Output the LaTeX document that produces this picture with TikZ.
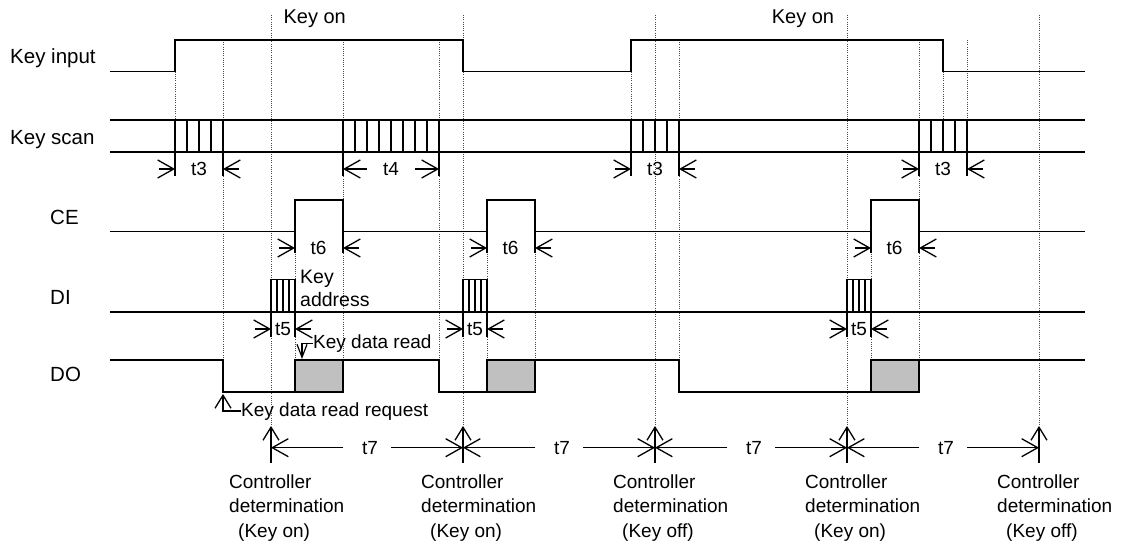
\documentclass[tikz,border=0pt]{standalone}
\usepackage{fontspec}
\setmainfont{Liberation Sans}
\usetikzlibrary{arrows.meta}
\definecolor{boxgray}{HTML}{C0C0C0}

\begin{document}
\begin{tikzpicture}[x=1pt,y=-1pt,
    font=\fontsize{19}{24.5}\selectfont,
    sig/.style={line width=1.5pt},
    guide/.style={line width=0.8pt,black!70,dash pattern=on 1pt off 1.2pt},
    ext/.style={line width=1.3pt},
    dimtip/.style={line width=1.3pt,-{Straight Barb[length=16pt,width=18pt]}},
    uptip/.style={line width=1.3pt,-{Straight Barb[length=13pt,width=16pt]}},
    smalltip/.style={line width=1.2pt,-{Straight Barb[length=13pt,width=10pt]}},
    sidelbl/.style={anchor=base west,inner sep=0pt,font=\fontsize{20.5}{24}\selectfont}]
        \useasboundingbox (0,0) rectangle (1133,545);
        \foreach \x/\ya/\yb in {175/71.7/120,223/40/360,271/15/426,295/231.7/360,343/40/360,439/40/360,463/15/426,487/231.7/360,535/231.7/360,631/71.7/120,655/15/426,679/40/360,847/15/426,871/231.7/360,919/40/360,943/71.7/120,967/40/152,1039/15/426}
          \draw[guide] (\x,\ya) -- (\x,\yb);
        \node[sidelbl] (lkin) at (10,63.5) {Key input};
        \node[sidelbl] (lksc) at (10,145) {Key scan};
        \node[sidelbl] (lce) at (50,225) {CE};
        \node[sidelbl] (ldi) at (50,305) {DI};
        \node[sidelbl] (ldo) at (50,381.7) {DO};
        \node[anchor=base,font=\fontsize{20}{24}\selectfont] (keyon1) at (314.7,23.5) {Key on};
        \node[anchor=base,font=\fontsize{20}{24}\selectfont] (keyon2) at (803,23.5) {Key on};
        % Key input
        \draw[sig] (110,71.7) -- (175,71.7) -- (175,40) -- (463,40) -- (463,71.7) -- (631,71.7) -- (631,40) -- (943,40) -- (943,71.7) -- (1085,71.7);
        % Key scan
        \draw[sig] (110,120) -- (1085,120) (110,152) -- (1085,152);
        \foreach \a in {175,631,919}
          \foreach \i in {0,...,4} \draw[ext] (\a+12*\i,120) -- (\a+12*\i,152);
        \foreach \i in {0,...,8} \draw[ext] (343+12*\i,120) -- (343+12*\i,152);
        \foreach \x in {175,223,343,439,631,679,919,967} \draw[ext] (\x,152) -- (\x,176);
        \foreach \a/\b/\n in {175/223/1,631/679/2,919/967/3} {
          \node (tt\n) at ({(\a+\b)/2},169) {t3};
          \coordinate (tl\n) at (\a,169);
          \coordinate (tr\n) at (\b,169);
          \draw[dimtip] ([xshift=-16pt]tl\n) -- (tl\n);
          \draw[dimtip] ([xshift=16pt]tr\n) -- (tr\n);
        }
        \node (tf) at (391,169) {t4};
        \coordinate (tfl) at (343,169);
        \coordinate (tfr) at (439,169);
        \draw[dimtip] ([xshift=-24pt]tf.center) -- (tfl);
        \draw[dimtip] ([xshift=24pt]tf.center) -- (tfr);
        % CE
        \draw[sig] (110,231.7) -- (295,231.7) -- (295,200) -- (343,200) -- (343,231.7) -- (487,231.7) -- (487,200) -- (535,200) -- (535,231.7) -- (871,231.7) -- (871,200) -- (919,200) -- (919,231.7) -- (1085,231.7);
        \foreach \p/\n in {295/1,487/2,871/3} {
          \draw[ext] (\p,231.7) -- (\p,253) (\p+48,231.7) -- (\p+48,253);
          \node (ts\n) at (\p+23.5,248) {t6};
          \coordinate (sl\n) at (\p,248);
          \coordinate (sr\n) at (\p+48,248);
          \draw[dimtip] ([xshift=-16pt]sl\n) -- (sl\n);
          \draw[dimtip] ([xshift=16pt]sr\n) -- (sr\n);
        }
        % DI
        \draw[sig] (110,312) -- (1085,312);
        \foreach \a/\n in {271/1,463/2,847/3} {
          \draw[sig] (\a,312) -- (\a,279.3) -- (\a+24,279.3) -- (\a+24,312);
          \foreach \i in {1,2,3} \draw[ext] (\a+6*\i,279.3) -- (\a+6*\i,312);
          \draw[ext] (\a,312) -- (\a,337) (\a+24,312) -- (\a+24,337);
          \node[inner sep=0pt] (tv\n) at (\a+12,329) {t5};
          \coordinate (vl\n) at (\a,329);
          \coordinate (vr\n) at (\a+24,329);
          \draw[dimtip] ([xshift=-16pt]vl\n) -- (vl\n);
          \draw[dimtip] ([xshift=16pt]vr\n) -- (vr\n);
        }
        \node[anchor=north west,align=left,inner sep=0pt,font=\fontsize{19.5}{23.4}\selectfont] (keyaddr) at (300,269.5) {Key\\address};
        % DO
        \draw[sig] (110,360) -- (223,360) -- (223,392) -- (295,392) -- (295,360) -- (439,360) -- (439,392) -- (487,392) -- (487,360) -- (679,360) -- (679,392) -- (871,392) -- (871,360) -- (1085,360);
        \foreach \a in {295,487,871} \draw[sig,fill=boxgray] (\a,360) rectangle (\a+48,392);
        \node[anchor=base west,inner sep=0pt] (rd) at (313,348.5) {Key data read};
        \coordinate (rdtip) at (302,359);
        \draw[smalltip] (rd.west) -| (rdtip);
        \node[anchor=base west,inner sep=0pt] (req) at (241,416) {Key data read request};
        \coordinate (reqtip) at (223,394);
        \draw[uptip] (req.west) -| (reqtip);
        % controller determination
        \foreach \x/\n/\s in {271/1/on,463/2/on,655/3/off,847/4/on,1039/5/off} {
          \coordinate (cb\n) at (\x,463);
          \coordinate (ct\n) at (\x,426);
          \coordinate (cd\n) at (\x,447.7);
          \draw[uptip] (cb\n) -- (ct\n);
          \node[anchor=north west,align=left,inner sep=0pt] (ctl\n) at (\x-42,474.5) {Controller\\determination\\\hspace*{9pt}(Key \s)};
        }
        \foreach \x/\n [evaluate=\n as \m using int(\n+1)] in {370/1,562/2,754/3,946/4} {
          \node (tw\n) at (\x,447.7) {t7};
          \ifnum\n>1 \draw[dimtip] ([xshift=-27pt]tw\n.center) -- (cd\n); \fi
          \draw[dimtip] ([xshift=21pt]tw\n.center) -- (cd\m);
        }
        \draw[dimtip] ([xshift=-27pt]tw1.center) -- (cd1);
      \end{tikzpicture}
\end{document}
